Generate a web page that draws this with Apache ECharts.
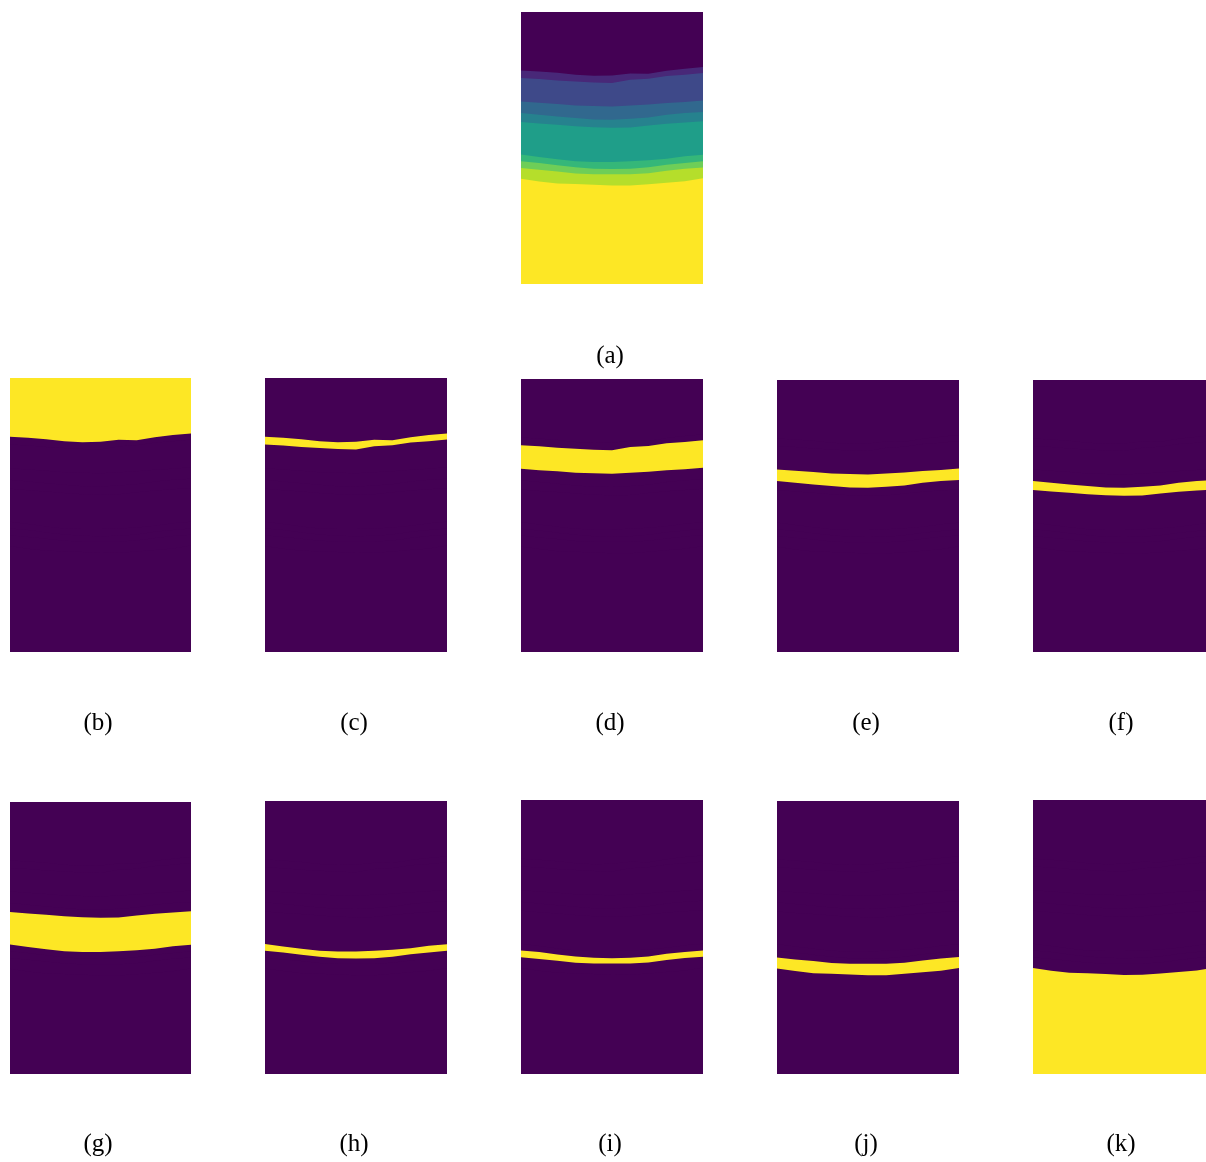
<!DOCTYPE html>
<html>
<head>
<meta charset="utf-8">
<script src="https://cdn.jsdelivr.net/npm/echarts@6/dist/echarts.min.js"></script>
<style>
html,body{margin:0;padding:0;background:#ffffff;}
#chart{width:1206px;height:1162px;}
</style>
</head>
<body>
<div id="chart"></div>
<script>
// Column positions across the section (image columns)
const cols = [0, 18, 36, 54, 72, 90, 108, 126, 144, 162, 180];
const imageDepth = 272;
// Depth of the lower boundary of each facies class (image rows)
const bound0 = [58.4, 59.4, 60.7, 62.7, 63.7, 63.4, 61.4, 61.7, 58.7, 56.7, 55];
const bound1 = [66, 67, 68.4, 69.4, 70.4, 71, 67.7, 66.7, 64, 62.7, 61];
const bound2 = [89.5, 90.8, 92, 93.5, 94, 94.5, 93.5, 92.5, 91, 90, 88.5];
const bound3 = [101, 102.7, 104.4, 106, 107.4, 107.7, 106.7, 105.4, 102.7, 101, 100];
const bound4 = [110, 111.5, 112.7, 114.2, 115.3, 115.8, 115.5, 113.5, 111.8, 110.5, 109.3];
const bound5 = [142.6, 145, 147.3, 149.3, 150, 150, 149.3, 148.3, 146.7, 144.3, 142.7];
const bound6 = [149.3, 151, 153.3, 155.3, 156.7, 157, 156.7, 155.3, 152.7, 151, 149.3];
const bound7 = [156, 157.8, 159.5, 161.5, 162.2, 162.2, 162.2, 161.2, 158.8, 156.8, 155.5];
const bound8 = [166.8, 169.5, 171.5, 172, 172.8, 173.6, 173.5, 172.2, 170.7, 169.2, 166.3];
const boundaries = [bound0, bound1, bound2, bound3, bound4, bound5, bound6, bound7, bound8];
const classColors = ['#440154', '#482878', '#3e4989', '#31688e', '#26828e',
                     '#1f9e89', '#35b779', '#6ece58', '#b5de2b', '#fde725'];
const panelLabels = ['(a)', '(b)', '(c)', '(d)', '(e)', '(f)', '(g)', '(h)', '(i)', '(j)', '(k)'];
// panel 0 shows all classes; panel k (1..10) highlights class k-1
const panelClass = [null, 0, 1, 2, 3, 4, 5, 6, 7, 8, 9];

// layout (pixels)
const layout = [
  {l: 521, t: 12, w: 182, h: 272, lx: 610, ly: 356},
  {l: 10, t: 378, w: 181, h: 274, lx: 98, ly: 723},
  {l: 265, t: 378, w: 182, h: 274, lx: 354, ly: 723},
  {l: 521, t: 379, w: 182, h: 273, lx: 610, ly: 723},
  {l: 777, t: 380, w: 182, h: 272, lx: 866, ly: 723},
  {l: 1033, t: 380, w: 173, h: 272, lx: 1121, ly: 723, clip: true},
  {l: 10, t: 802, w: 181, h: 272, lx: 98, ly: 1144},
  {l: 265, t: 801, w: 182, h: 273, lx: 354, ly: 1144},
  {l: 521, t: 800, w: 182, h: 274, lx: 610, ly: 1144},
  {l: 777, t: 801, w: 182, h: 273, lx: 866, ly: 1144},
  {l: 1033, t: 800, w: 173, h: 274, lx: 1121, ly: 1144, clip: true}
];

const HIGHLIGHT = '#fde725';
const BACKGROUND = '#440154';

function colorFor(panel, cls) {
  const c = panelClass[panel];
  if (c === null) return classColors[cls];
  return cls === c ? HIGHLIGHT : BACKGROUND;
}

const grids = [], xAxes = [], yAxes = [], series = [], graphics = [];
layout.forEach((p, i) => {
  grids.push({
    left: p.l, top: p.t, width: p.w, height: p.h,
    show: true, borderWidth: 0, backgroundColor: colorFor(i, 9),
    containLabel: false
  });
  xAxes.push({
    type: 'value', gridIndex: i, min: 0,
    max: p.clip ? 180 * p.w / 182 : 180,
    show: false, splitLine: {show: false}
  });
  yAxes.push({
    type: 'value', gridIndex: i, min: 0, max: imageDepth, inverse: true,
    show: false, splitLine: {show: false}
  });
  for (let k = boundaries.length - 1; k >= 0; k--) {
    const b = boundaries[k];
    series.push({
      type: 'line', xAxisIndex: i, yAxisIndex: i,
      data: cols.map((c, j) => [c, b[j]]),
      symbol: 'none', silent: true, clip: true,
      lineStyle: {width: 0, opacity: 0},
      areaStyle: {color: colorFor(i, k), opacity: 1, origin: 'start'},
      animation: false
    });
  }
  graphics.push({
    type: 'text', x: p.lx, y: p.ly,
    style: {
      text: panelLabels[i], fill: '#000', font: '25px "Liberation Serif", serif',
      textAlign: 'center', textVerticalAlign: 'middle'
    }
  });
});

const chart = echarts.init(document.getElementById('chart'), null, {renderer: 'canvas'});
chart.setOption({
  backgroundColor: '#ffffff',
  animation: false,
  grid: grids,
  xAxis: xAxes,
  yAxis: yAxes,
  series: series,
  graphic: graphics
});
</script>
</body>
</html>
